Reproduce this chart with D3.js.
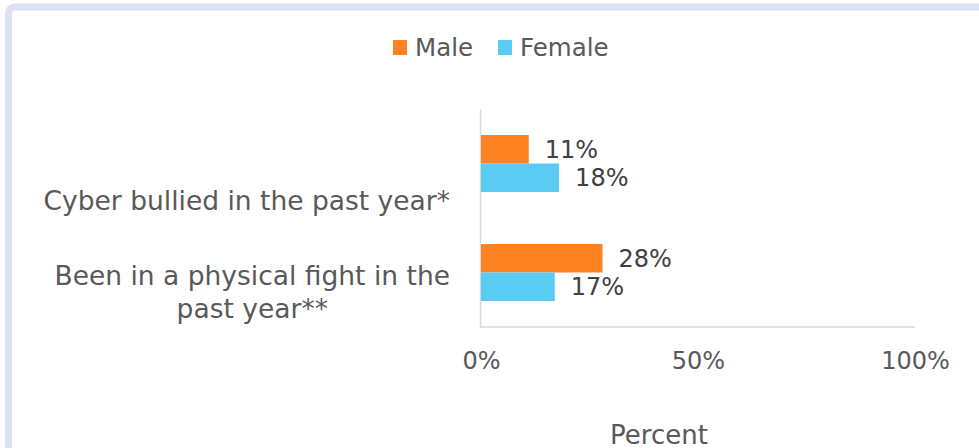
<!DOCTYPE html>
<html>
<head>
<meta charset="utf-8">
<script src="https://cdn.jsdelivr.net/npm/d3@7"></script>
<style>
  html, body { margin: 0; padding: 0; background: #fff; overflow: hidden; }
  svg { display: block; font-family: "DejaVu Sans", Verdana, sans-serif; }
</style>
</head>
<body>
<svg id="chart" width="979" height="448"></svg>
<script>
// ---- data ----
const categories = ["Cyber bullied in the past year*", "Been in a physical fight in the past year**"];
const categoryLines = [["Cyber bullied in the past year*"], ["Been in a physical fight in the", "past year**"]];
const seriesNames = ["Male", "Female"];
const maleValues = [0.11, 0.28];
const femaleValues = [0.18, 0.17];
const tickValues = [0, 0.5, 1];
const axisTitle = "Percent";

const colors = { Male: "#fe8122", Female: "#5ccbf3" };
const series = [maleValues, femaleValues];

const svg = d3.select("#chart");

// frame
svg.append("rect")
  .attr("x", 8.5).attr("y", 7).attr("width", 1100).attr("height", 600)
  .attr("rx", 6).attr("fill", "#fff")
  .attr("stroke", "#dce1f3").attr("stroke-width", 7);

const plot = { left: 481, right: 915, top: 109, bottom: 327 };

const x = d3.scaleLinear().domain([0, 1]).range([plot.left, plot.right]);
const y = d3.scaleBand().domain(categories).range([plot.top, plot.bottom]).padding(0);
const inner = d3.scaleBand().domain(seriesNames).range([0, y.bandwidth()])
  .paddingInner(0).paddingOuter(0.912);

// axes lines
const xAxis = d3.axisBottom(x).tickValues(tickValues).tickSize(0).tickSizeOuter(0)
  .tickFormat(d3.format(".0%"));
const gx = svg.append("g").attr("transform", `translate(0,${plot.bottom})`).call(xAxis);
gx.select(".domain").attr("stroke", "#d9d9d9").attr("stroke-width", 1.5)
  .attr("d", `M${plot.left - 1},0H${plot.right}`);
gx.selectAll(".tick text").attr("fill", "#595959").attr("font-size", 24)
  .attr("font-family", "DejaVu Sans").attr("y", 42).attr("dy", 0);

const yAxis = d3.axisLeft(y).tickSize(0).tickFormat("");
const gy = svg.append("g").attr("transform", `translate(${plot.left - 1},0)`).call(yAxis);
gy.select(".domain").attr("stroke", "#d9d9d9").attr("stroke-width", 1.5);

// bars
seriesNames.forEach((s, si) => {
  const g = svg.append("g");
  g.selectAll("rect").data(series[si]).join("rect")
    .attr("x", x(0))
    .attr("y", (d, i) => y(categories[i]) + inner(s))
    .attr("width", d => x(d) - x(0))
    .attr("height", inner.bandwidth())
    .attr("fill", colors[s]);
  g.selectAll("text").data(series[si]).join("text")
    .attr("x", d => x(d) + 16)
    .attr("y", (d, i) => y(categories[i]) + inner(s) + inner.bandwidth() / 2)
    .attr("dy", "0.35em")
    .attr("font-size", 24)
    .attr("fill", "#404040")
    .text(d => d3.format(".0%")(d));
});

// category labels
const labelRight = 450;
const labelShift = [46.5, 12.5];
const lineH = 33;
categories.forEach((c, i) => {
  const t = svg.append("text").attr("font-size", 26.5).attr("fill", "#595959")
    .attr("text-anchor", "middle");
  const lines = categoryLines[i];
  const spans = lines.map((ln, li) => t.append("tspan").text(ln));
  const w = d3.max(spans, sp => sp.node().getComputedTextLength());
  const cx = labelRight - w / 2;
  const base = y(c) + y.bandwidth() / 2 + labelShift[i];
  spans.forEach((sp, li) => sp.attr("x", cx).attr("y", base + li * lineH));
});

// axis title
svg.append("text").attr("x", 659).attr("y", 444).attr("text-anchor", "middle")
  .attr("font-size", 26).attr("fill", "#595959").text(axisTitle);

// legend
const legendPos = [{ sx: 393, tx: 415 }, { sx: 498, tx: 520 }];
seriesNames.forEach((s, i) => {
  svg.append("rect").attr("x", legendPos[i].sx).attr("y", 40)
    .attr("width", 14).attr("height", 15).attr("fill", colors[s]);
  svg.append("text").attr("x", legendPos[i].tx).attr("y", 56)
    .attr("font-size", 24.5).attr("fill", "#595959").text(s);
});
</script>
</body>
</html>
